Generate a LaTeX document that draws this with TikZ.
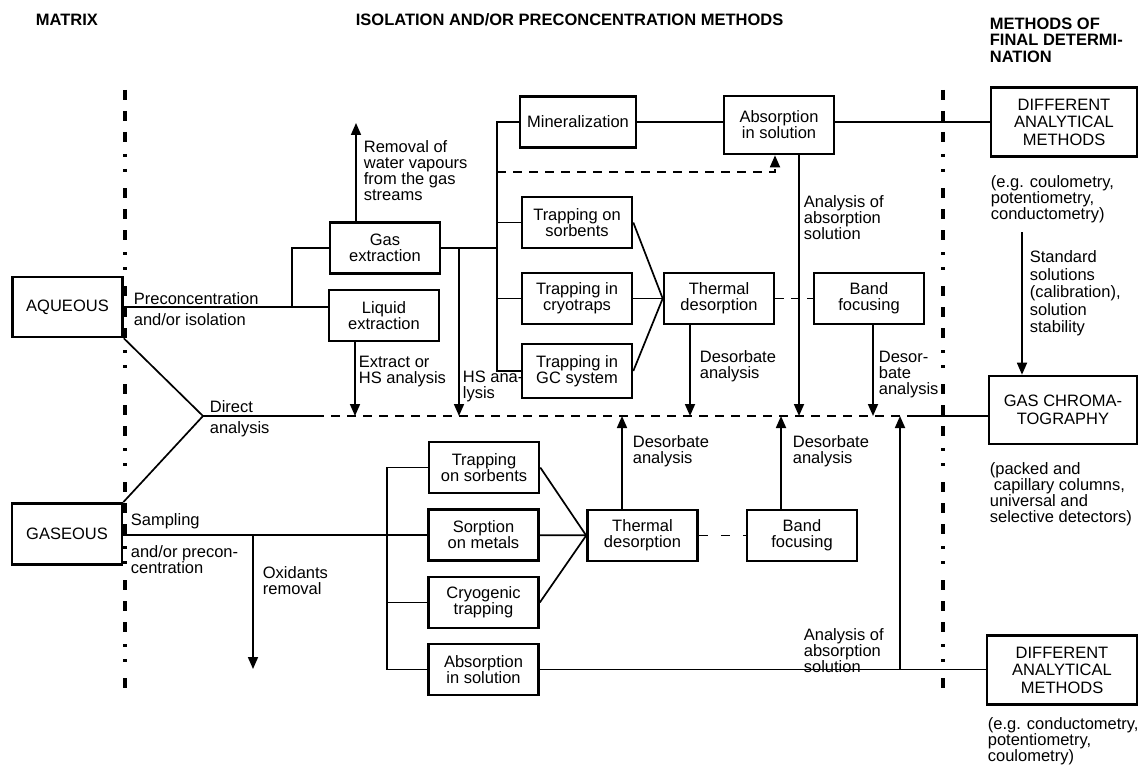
\documentclass[tikz,border=0pt]{standalone}
\usepackage{fontspec}
\setmainfont{Liberation Sans}
\usetikzlibrary{arrows.meta}

\begin{document}
\begin{tikzpicture}[x=1pt,y=-1pt,line width=1.7pt,
  font=\fontsize{16.5}{16}\selectfont,
  >={Triangle[length=12pt,width=10pt]},
  box/.style={draw,line width=2.6pt,align=center,minimum width=110pt,minimum height=51pt,inner sep=1pt},
  bigbox/.style={box,minimum width=150pt,minimum height=69pt,font=\fontsize{16.5}{17.5}\selectfont},
  lbl/.style={anchor=north west,align=left,inner sep=0pt},
  ttl/.style={lbl,font=\fontsize{16.5}{16.5}\selectfont\bfseries},
  dashln/.style={dash pattern=on 9pt off 7pt},
  divider/.style={line width=3.2pt,dash pattern=on 10pt off 11pt on 10pt off 11pt on 10pt off 12pt on 3pt off 12pt on 3pt off 16pt}]
  \useasboundingbox (0,0) rectangle (1138,765);

  \node[ttl] (tmat) at (35,13) {MATRIX};
  \node[ttl] (tiso) at (355,13) {ISOLATION AND/OR PRECONCENTRATION METHODS};
  \node[ttl] (tfin) at (989,17) {METHODS OF\\FINAL DETERMI-\\NATION};

  \draw[divider] (125,90) -- (125,697);
  \draw[divider] (943,90) -- (943,697);

  \node[box,minimum height=60pt] (aq) at (67.5,307) {AQUEOUS};
  \node[box,minimum height=61pt] (gs) at (67,534) {GASEOUS};
  \node[box] (gext) at (385,248) {Gas\\extraction};
  \node[box] (lext) at (384,315.5) {Liquid\\extraction};
  \node[box,minimum width=116pt] (mine) at (578,122) {Mineralization};
  \node[box,minimum height=58pt] (absT) at (779,125) {Absorption\\in solution};
  \node[bigbox,minimum width=146pt] (difT) at (1064,122) {DIFFERENT\\ANALYTICAL\\METHODS};
  \node[box] (sorbT) at (577,222.5) {Trapping on\\sorbents};
  \node[box] (cryT) at (577,298.5) {Trapping in\\cryotraps};
  \node[box,minimum height=54pt] (gcs) at (577,371) {Trapping in\\GC system};
  \node[box] (thT) at (719,298.5) {Thermal\\desorption};
  \node[box] (bfT) at (869,298.5) {Band\\focusing};
  \node[bigbox,minimum width=148pt,minimum height=68pt] (chrom) at (1063,410) {GAS CHROMA-\\TOGRAPHY};
  \node[box] (sorbB) at (484,467.5) {Trapping\\on sorbents};
  \node[box] (metB) at (483.5,535) {Sorption\\on metals};
  \node[box] (cryB) at (483.5,602.5) {Cryogenic\\trapping};
  \node[box] (absB) at (483.5,669.5) {Absorption\\in solution};
  \node[box] (thB) at (642.5,535.5) {Thermal\\desorption};
  \node[box] (bfB) at (802,535.5) {Band\\focusing};
  \node[bigbox] (difB) at (1062,670) {DIFFERENT\\ANALYTICAL\\METHODS};

  \coordinate (ya) at (203,416);
  \coordinate (jl) at (292,307);
  \coordinate (jm) at (497,248);
  \coordinate (jb) at (387,535);
  \coordinate (rw) at (356,123);
  \coordinate (dk) at (775,172);
  \coordinate (ox) at (253,669);
  \coordinate (st) at (1022,232);
  \foreach \n/\x in {dsA/315,dsB/908,m1/355,m2/459,m3/622,m4/690,m5/781,m6/799,m7/873,m8/900}
    \coordinate (\n) at (\x,416);

  \draw (aq) -- (aq -| lext.west);
  \draw (jl) |- (gext.west);
  \draw[->] (gext.north -| rw) -- (rw);
  \draw[->] (lext.south -| m1) -- (m1);
  \draw (gext.east) -- (jm);
  \draw[->] (m2 |- jm) -- (m2);
  \draw (mine.west) -| (jm) |- (gcs.west);
  \draw (sorbT.west -| jm) -- (sorbT.west);
  \draw (cryT.west -| jm) -- (cryT.west);
  \draw[dashln,->] (dk -| jm) -- (dk) -- (dk |- absT.south);
  \draw (mine.east) -- (mine.east -| absT.west);
  \draw (absT.east |- mine) -- (difT.west |- mine);
  \draw[->] (absT.south -| m6) -- (m6);
  \draw (sorbT.east) -- (thT.west);
  \draw (cryT) -- (thT);
  \draw (gcs.east) -- (thT.west);
  \draw[dashln] (thT) -- (bfT);
  \draw[->] (thT.south -| m4) -- (m4);
  \draw[->] (bfT.south -| m7) -- (m7);

  \draw (aq.south east) -- (ya) -- (gs.north east);
  \draw (ya) -- (dsA);
  \draw[dashln] (dsA) -- (dsB);
  \draw (dsB) -- (dsB -| chrom.west);
  \draw[->] (st) -- (st |- chrom.north);

  \draw (gs.east |- metB) -- (metB);
  \draw[->] (ox |- metB) -- (ox);
  \draw (sorbB.west) -| (jb) |- (absB.west);
  \draw (cryB.west -| jb) -- (cryB.west);
  \draw (sorbB.east) -- (thB.west);
  \draw (metB) -- (thB);
  \draw (cryB.east) -- (thB.west);
  \draw[dash pattern=on 9pt off 13pt] (thB) -- (bfB);
  \draw[->] (thB.north -| m3) -- (m3);
  \draw[->] (bfB.north -| m5) -- (m5);
  \draw (absB) -- (absB -| difB.west);
  \draw[->] (m8 |- absB) -- (m8);

  \node[lbl] (lpre) at (133,292) {Preconcentration\\[5pt]and/or isolation};
  \node[lbl] (ldir) at (209,400) {Direct\\[5pt]analysis};
  \node[lbl] (lrem) at (363,140) {Removal of\\water vapours\\from the gas\\streams};
  \node[lbl] (lxhs) at (358,355) {Extract or\\HS analysis};
  \node[lbl] (lhs) at (462,370) {HS ana-\\lysis};
  \node[lbl] (ldesT) at (699,350) {Desorbate\\analysis};
  \node[lbl] (lbfT) at (878,350) {Desor-\\bate\\analysis};
  \node[lbl] (lanaT) at (803,195) {Analysis of\\absorption\\solution};
  \node[lbl,font=\fontsize{16.5}{17.5}\selectfont] (lstd) at (1029,250) {Standard\\solutions\\(calibration),\\solution\\stability};
  \node[lbl] (legT) at (990,175) {(e.g. coulometry,\\potentiometry,\\conductometry)};
  \node[lbl] (lpack) at (989,462) {(packed and\\\hspace*{4pt}capillary columns,\\universal and\\selective detectors)};
  \node[lbl] (ldesB) at (632,435) {Desorbate\\analysis};
  \node[lbl] (lbfB) at (792,435) {Desorbate\\analysis};
  \node[lbl] (lsam) at (130,513) {Sampling};
  \node[lbl] (lsamb) at (130,545) {and/or precon-\\centration};
  \node[lbl] (loxi) at (262,566) {Oxidants\\removal};
  \node[lbl] (lanaB) at (803,628) {Analysis of\\absorption\\solution};
  \node[lbl] (legB) at (987,717) {(e.g. conductometry,\\potentiometry,\\coulometry)};
\end{tikzpicture}
\end{document}
